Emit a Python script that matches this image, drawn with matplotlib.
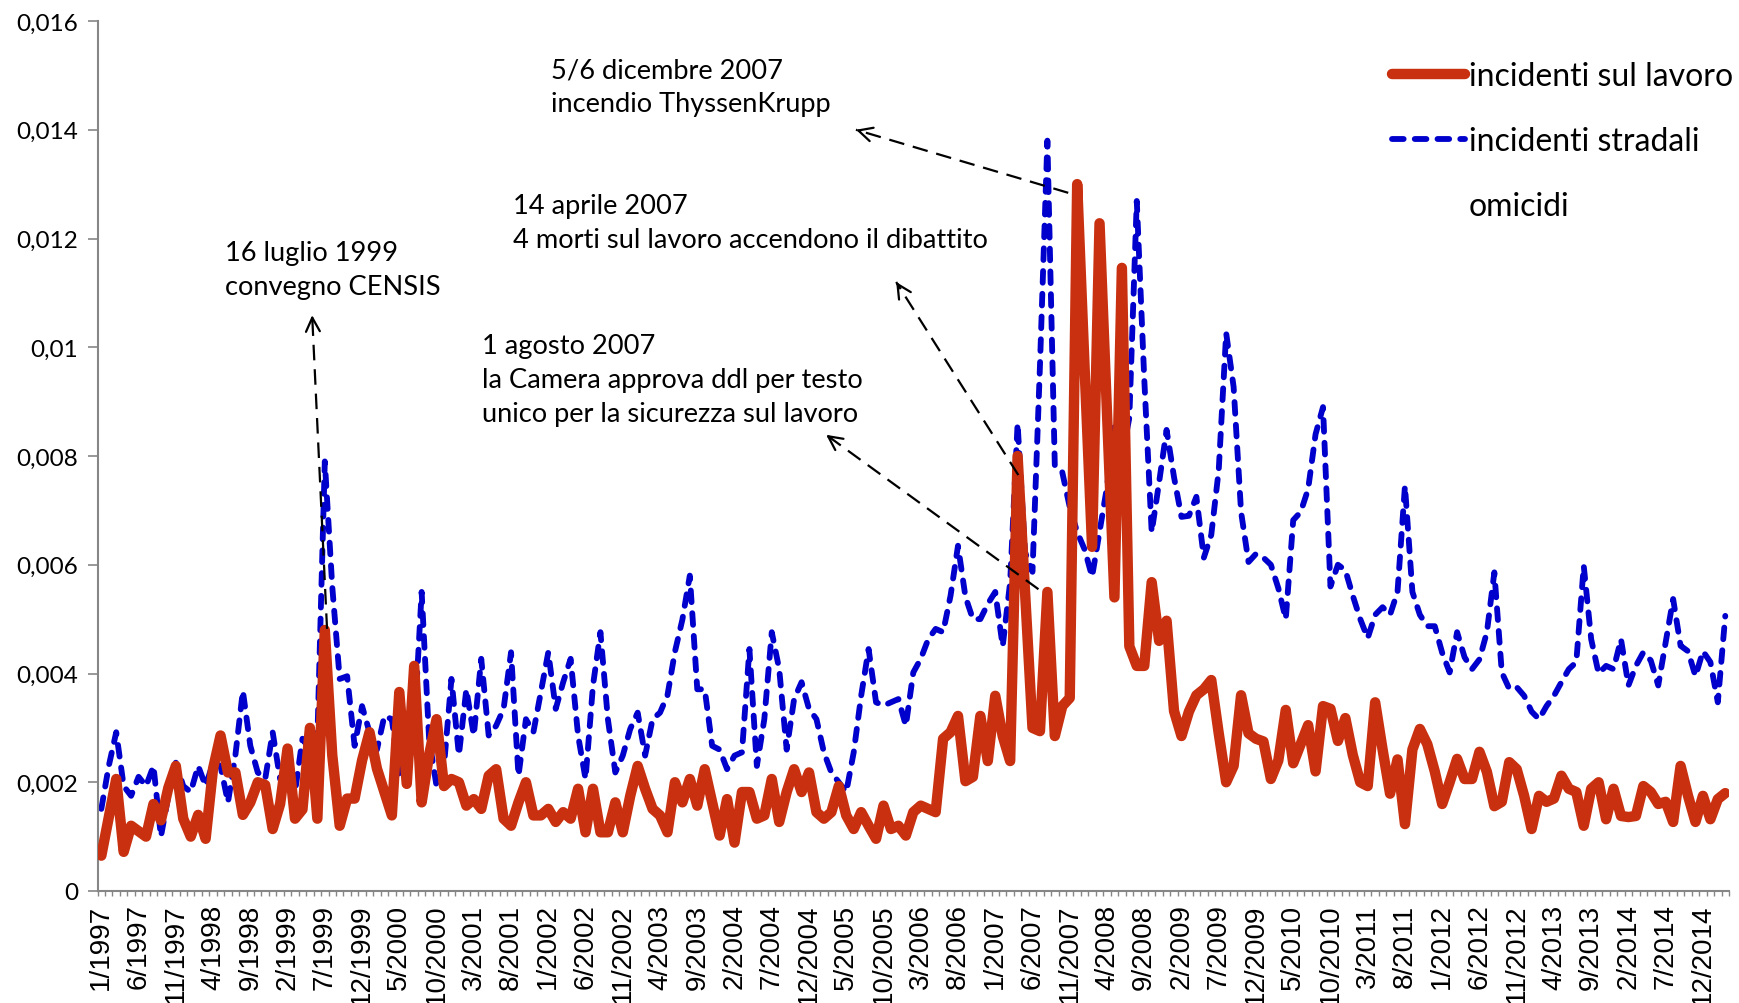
import numpy as np
import matplotlib
matplotlib.use("Agg")
import matplotlib.pyplot as plt
from matplotlib.lines import Line2D

# monthly values, 1/1997 .. 3/2015 (x 0.001)
lavoro = [
    0.65, 1.35, 2.06, 0.72, 1.2, 1.1, 1.0, 1.6, 1.3, 1.9, 2.3, 1.33,
    1.0, 1.4, 0.96, 2.25, 2.86, 2.18, 2.18, 1.4, 1.63, 2.0, 1.95, 1.14,
    1.6, 2.62, 1.33, 1.5, 3.0, 1.33, 4.8, 2.5, 1.2, 1.7, 1.7, 2.4,
    2.92, 2.25, 1.82, 1.39, 3.66, 1.97, 4.14, 1.63, 2.5, 3.16, 1.93, 2.06,
    2.0, 1.57, 1.69, 1.51, 2.12, 2.24, 1.33, 1.2, 1.63, 2.0, 1.39, 1.39,
    1.51, 1.27, 1.45, 1.33, 1.88, 1.08, 1.88, 1.08, 1.08, 1.63, 1.08, 1.75,
    2.3, 1.88, 1.51, 1.39, 1.08, 2.0, 1.63, 2.06, 1.57, 2.24, 1.63, 1.02,
    1.69, 0.89, 1.82, 1.82, 1.33, 1.39, 2.06, 1.27, 1.82, 2.24, 1.82, 2.18,
    1.45, 1.33, 1.45, 1.93, 1.39, 1.14, 1.45, 1.2, 0.96, 1.57, 1.14, 1.2,
    1.02, 1.45, 1.57, 1.51, 1.45, 2.8, 2.92, 3.22, 2.02, 2.1, 3.22, 2.39,
    3.59, 2.85, 2.39, 8.0, 5.5, 3.0, 2.94, 5.5, 2.85, 3.4, 3.55, 13.0,
    9.6, 6.33, 12.28, 8.8, 5.4, 11.46, 4.5, 4.14, 4.14, 5.68, 4.6, 4.97,
    3.31, 2.85, 3.3, 3.6, 3.71, 3.88, 2.9, 2.0, 2.3, 3.6, 2.9, 2.8,
    2.75, 2.06, 2.4, 3.33, 2.35, 2.7, 3.05, 2.2, 3.4, 3.35, 2.76, 3.18,
    2.5, 2.0, 1.93, 3.47, 2.6, 1.79, 2.42, 1.23, 2.6, 2.98, 2.7, 2.2,
    1.6, 2.0, 2.43, 2.06, 2.06, 2.56, 2.19, 1.56, 1.64, 2.37, 2.24, 1.75,
    1.14, 1.75, 1.64, 1.7, 2.12, 1.88, 1.82, 1.2, 1.88, 2.0, 1.32, 1.88,
    1.38, 1.36, 1.38, 1.93, 1.82, 1.6, 1.64, 1.27, 2.3, 1.75, 1.27, 1.75,
    1.32, 1.69, 1.8,
]
stradali = [
    1.51, 2.3, 2.92, 1.93, 1.75, 2.1, 1.93, 2.3, 1.0, 1.75, 2.36, 1.93,
    1.82, 2.3, 1.93, 2.36, 2.3, 1.63, 2.5, 3.68, 2.67, 2.18, 2.06, 2.92,
    2.06, 2.25, 1.82, 2.8, 2.6, 2.8, 7.9, 5.6, 3.9, 3.95, 2.67, 3.4,
    2.92, 2.6, 3.22, 3.16, 2.12, 2.98, 2.98, 5.5, 2.8, 1.93, 2.3, 3.9,
    2.5, 3.71, 2.86, 4.27, 2.86, 3.04, 3.35, 4.39, 2.12, 3.16, 2.92, 3.65,
    4.39, 3.35, 3.84, 4.27, 2.86, 2.06, 3.78, 4.76, 3.16, 2.18, 2.49, 2.98,
    3.28, 2.49, 3.16, 3.28, 3.6, 4.4, 4.99, 5.8, 3.71, 3.71, 2.67, 2.6,
    2.24, 2.49, 2.55, 4.45, 2.3, 3.16, 4.76, 4.08, 2.6, 3.53, 3.84, 3.35,
    3.16, 2.55, 2.18, 2.0, 1.82, 2.55, 3.59, 4.45, 3.47, 3.41, 3.47, 3.53,
    3.04, 4.02, 4.27, 4.63, 4.82, 4.76, 5.43, 6.35, 5.41, 5.0, 5.0, 5.28,
    5.5, 4.5, 5.68, 8.6, 6.23, 5.87, 9.65, 13.8, 7.8, 7.7, 7.06, 6.6,
    6.28, 5.78, 6.6, 7.43, 8.53, 7.98, 8.7, 12.69, 9.43, 6.6, 7.52, 8.48,
    7.61, 6.88, 6.9, 7.25, 6.13, 6.55, 7.74, 10.26, 9.27, 6.97, 6.05, 6.2,
    6.13, 6.0, 5.57, 5.0, 6.82, 6.97, 7.39, 8.4, 8.9, 5.6, 6.0, 5.9,
    5.43, 5.0, 4.65, 5.08, 5.22, 5.08, 5.5, 7.45, 5.5, 5.08, 4.87, 4.87,
    4.38, 4.02, 4.76, 4.3, 4.08, 4.26, 4.76, 5.86, 4.02, 3.72, 3.75, 3.59,
    3.3, 3.16, 3.4, 3.59, 3.84, 4.08, 4.21, 5.98, 4.63, 4.0, 4.14, 4.08,
    4.63, 3.78, 4.14, 4.39, 4.24, 3.78, 4.58, 5.37, 4.51, 4.41, 3.95, 4.41,
    4.21, 3.47, 5.06,
]
serie = ["incidenti sul lavoro", "incidenti stradali", "omicidi"]
y_ticks = [0, 0.002, 0.004, 0.006, 0.008, 0.01, 0.012, 0.014, 0.016]
y_labels = ["0", "0,002", "0,004", "0,006", "0,008", "0,01", "0,012", "0,014", "0,016"]

# annotations: text, text top-left, arrow tail (on the series), arrow head (near text)
note_text = ["16 luglio 1999\nconvegno CENSIS",
             "14 aprile 2007\n4 morti sul lavoro accendono il dibattito",
             "1 agosto 2007\nla Camera approva ddl per testo\nunico per la sicurezza sul lavoro",
             "5/6 dicembre 2007\nincendio ThyssenKrupp"]
note_pos = [(16.6, 0.01198), (55.2, 0.01283), (51.1, 0.01027), (60.4, 0.01533)]
note_tail = [(30.3, 0.00482), (123.1, 0.00765), (125.8, 0.00555), (129.8, 0.01284)]
note_head = [(28.3, 0.01059), (106.7, 0.0112), (97.3, 0.00839), (101.3, 0.0140)]

RED = "#C8300F"
BLUE = "#0000CC"
GREY = "#868686"
BLUE_DASH = (0, (2.0, 1.9))

lav = np.array(lavoro) * 1e-3
stra = np.array(stradali) * 1e-3
n = len(lav)
x = np.arange(n)

plt.rcParams["font.family"] = ["Lato", "DejaVu Sans"]

fig = plt.figure(figsize=(17.39, 10.04), dpi=100)
ax = fig.add_axes([97.6 / 1739, 112 / 1004, (1729 - 97.6) / 1739, 870 / 1004])

ax.plot(x, stra, color=BLUE, lw=4.2, linestyle=BLUE_DASH,
        dash_capstyle="round", dash_joinstyle="round", zorder=2)
ax.plot(x, lav, color=RED, lw=7.5, solid_joinstyle="round",
        solid_capstyle="round", zorder=3)

ax.set_xlim(-0.5, n - 0.5)
ax.set_ylim(0, 0.016)

ax.set_yticks(y_ticks)
ax.set_yticklabels(y_labels)
ax.tick_params(axis="y", length=7.2, width=1.2, color=GREY, pad=7, labelsize=17.5)

lab_pos = list(range(0, n, 5))
lab_txt = ["%d/%d" % (m % 12 + 1, 1997 + m // 12) for m in lab_pos]
ax.set_xticks(lab_pos)
ax.set_xticklabels(lab_txt)
ax.tick_params(axis="x", which="major", length=0, pad=9, labelsize=20,
               labelrotation=90, labelfontfamily="Liberation Sans")
ax.set_xticks(np.arange(-0.5, n, 1), minor=True)
ax.tick_params(axis="x", which="minor", length=3.6, width=1, color=GREY)

for s in ["top", "right"]:
    ax.spines[s].set_visible(False)
for s in ["left", "bottom"]:
    ax.spines[s].set_color(GREY)
    ax.spines[s].set_linewidth(1.5)

for t, p, tail, head in zip(note_text, note_pos, note_tail, note_head):
    ax.text(p[0], p[1], t, fontsize=19.6, va="top", ha="left", linespacing=1.45)
    ax.plot([tail[0], head[0]], [tail[1], head[1]], color="black", lw=1.6,
            linestyle=(0, (7, 4)), zorder=4)
    ax.annotate("", xy=head, xytext=(head[0] + (tail[0] - head[0]) * 0.02,
                                     head[1] + (tail[1] - head[1]) * 0.02),
                arrowprops=dict(arrowstyle="->,head_length=1.0,head_width=0.5",
                                color="black", lw=1.6, shrinkA=0, shrinkB=0),
                zorder=4)

handles = [Line2D([], [], color=RED, lw=7.5, solid_capstyle="round"),
           Line2D([], [], color=BLUE, lw=4.2, linestyle=BLUE_DASH, dash_capstyle="round"),
           Line2D([], [], color="none")]
ax.legend(handles, serie, loc="upper left", bbox_to_anchor=(1392 / 1739, 1 - 62 / 1004),
          bbox_transform=fig.transFigure, frameon=False, fontsize=23,
          handlelength=2.3, handletextpad=0.1, labelspacing=1.1,
          borderpad=0, borderaxespad=0)

fig.savefig("out.png", dpi=100)
